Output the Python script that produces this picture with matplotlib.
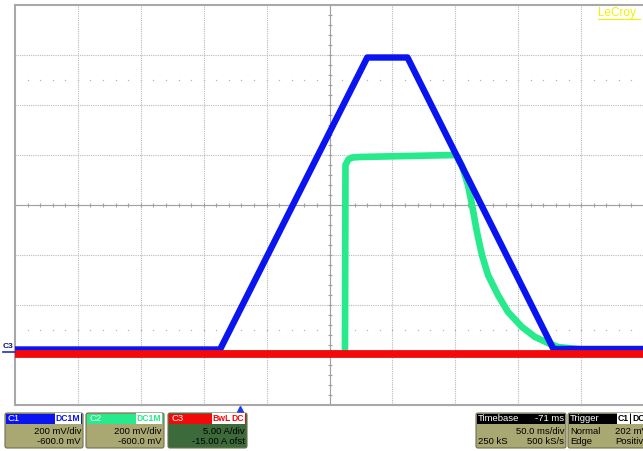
import matplotlib
matplotlib.use("Agg")
from matplotlib import pyplot as plt
from matplotlib.patches import FancyBboxPatch, Rectangle
import matplotlib.transforms as mtransforms
import numpy as np

plt.rcParams["font.family"] = ["Liberation Sans", "DejaVu Sans"]

# horizontal: time in ms, 0 = trigger
time_per_div = 50.0
trig_delay = -71.0

# C1 (blue), mV
c1_t = [-179, -16, 101, 133, 249, 321]
c1_v = [22, 22, 1190, 1190, 24, 24]
c1_scale, c1_offset = 200.0, -600.0

# C2 (green), mV
c2_t = [-179, 83.3, 83.7, 86, 89, 95, 171.6, 176.3, 181.1, 184.3, 188.2,
        192.2, 197.0, 204.9, 212.9, 224.0, 234.4, 244.7, 252.6, 275.7, 321]
c2_v = [5, 5, 760, 782, 790, 792, 800, 756, 680, 600, 492,
        400, 320, 240, 172, 112, 72, 48, 32, 20, 12]
c2_scale, c2_offset = 200.0, -600.0

# C3 (red), A
c3_t = [-179, 321]
c3_i = [0.1, 0.1]
c3_scale, c3_offset = 5.0, -15.0

W, H = 643, 451
fig = plt.figure(figsize=(W / 100, H / 100), dpi=100)
fig.patch.set_facecolor("white")

# grid area: x 15..644 px, y 5..405 px
ax = fig.add_axes([15 / W, (H - 405) / H, 629 / W, 400 / H])
center_t = -trig_delay
ax.set_xlim(center_t - 5 * time_per_div, center_t + 5 * time_per_div)
ax.set_ylim(-4, 4)
ax.set_xticks([])
ax.set_yticks([])
ax.spines["right"].set_visible(False)
for s in ("left", "top", "bottom"):
    ax.spines[s].set_color("#a8a8a8")
    ax.spines[s].set_linewidth(1.5)

x_major = ax.get_xlim()[0] + time_per_div * np.arange(1, 10)
grid_kw = dict(color="#bababa", lw=0.8, ls=(0, (1, 1)), zorder=1)
for xv in x_major:
    ax.axvline(xv, **grid_kw)
for yv in range(-3, 4):
    ax.axhline(yv, **grid_kw)

# centre cross ticks and dotted rows
x_minor = ax.get_xlim()[0] + time_per_div * 0.2 * np.arange(1, 50)
y_minor = 0.2 * np.arange(-19, 20)
ax.axhline(0, color="#a0a0a0", lw=0.8, zorder=1)
ax.axvline(center_t, color="#a0a0a0", lw=0.8, zorder=1)
ax.plot(x_minor, np.zeros_like(x_minor), ls="none", marker="|", ms=3.5,
        mew=0.8, color="#a0a0a0", zorder=1)
ax.plot(np.full_like(y_minor, center_t), y_minor, ls="none", marker="_",
        ms=3.5, mew=0.8, color="#a0a0a0", zorder=1)
for yv in (2.5, -2.5):
    ax.plot(x_minor, np.full_like(x_minor, yv), ls="none", marker="s",
            ms=0.9, mew=0, color="#b4b4b4", zorder=1)


def to_div(vals, scale, offset):
    return (np.array(vals) + offset) / scale


ax.plot(c2_t, to_div(c2_v, c2_scale, c2_offset), color="#26ea8c", lw=4.8,
        solid_joinstyle="round", zorder=3)
ax.plot(c1_t, to_div(c1_v, c1_scale, c1_offset), color="#0a14f0", lw=4.6,
        solid_joinstyle="round", zorder=4)
ax.plot(c3_t, to_div(c3_i, c3_scale, c3_offset), color="#f20a0a", lw=5.6,
        zorder=5)

# trigger marker
trans = mtransforms.blended_transform_factory(ax.transData, ax.transAxes)
ax.plot([0], [-0.011], marker="^", ms=4.5, color="#1a3cf0", transform=trans,
        clip_on=False, zorder=6)

# overlay in pixel coordinates for the readouts
ov = fig.add_axes([0, 0, 1, 1], zorder=10)
ov.set_xlim(0, W)
ov.set_ylim(H, 0)
ov.axis("off")
ov.patch.set_alpha(0)

# C3 ground marker
ov.text(3, 346, "C3", color="#101070", fontsize=6, fontweight="bold",
        va="center", ha="left")
ov.plot([3, 15], [352, 352], color="#2030c0", lw=1.2)

# LeCroy logo
ov.text(598, 13, "LeCroy", color="#f2f200", fontsize=8.5, va="center",
        ha="left")
ov.plot([598, 640], [18.5, 18.5], color="#f2f200", lw=0.8)

khaki = "#a9a772"
fs = 6.8


def box(x0, w, head_color, body_color):
    ov.add_patch(FancyBboxPatch((x0, 413), w, 35,
                                boxstyle="round,pad=0,rounding_size=2",
                                fc=body_color, ec="#707050", lw=0.8))
    ov.add_patch(Rectangle((x0 + 1, 413.5), w - 2, 10, fc=head_color,
                           ec="none"))


def tag(x_right, label, color):
    ov.text(x_right, 418.6, label, color=color, fontsize=6.2, ha="right",
            va="center", fontweight="bold",
            bbox=dict(boxstyle="square,pad=0.08", fc="white", ec="none"))


# channel boxes
box(5, 78, "#0a14f0", khaki)
ov.text(8, 418.6, "C1", color="white", fontsize=fs, va="center")
tag(80, "DC1M", "#0a14f0")
ov.text(81, 432, "200 mV/div", fontsize=fs, ha="right", va="center")
ov.text(81, 442, "-600.0 mV", fontsize=fs, ha="right", va="center")

box(86, 78, "#26ea8c", khaki)
ov.text(89, 418.6, "C2", color="white", fontsize=fs, va="center")
tag(161, "DC1M", "#26ea8c")
ov.text(162, 432, "200 mV/div", fontsize=fs, ha="right", va="center")
ov.text(162, 442, "-600.0 mV", fontsize=fs, ha="right", va="center")

box(168, 79, "#f20a0a", "#3d6a3a")
ov.text(171, 418.6, "C3", color="white", fontsize=fs, va="center")
tag(244, "DC", "#f20a0a")
tag(231, "BwL", "#f20a0a")
ov.text(245, 432, "5.00 A/div", fontsize=fs, ha="right", va="center")
ov.text(245, 442, "-15.00 A ofst", fontsize=fs, ha="right", va="center")

# timebase / trigger boxes
box(476, 90, "black", khaki)
ov.text(478, 418.6, "Timebase", color="white", fontsize=fs, va="center")
ov.text(564, 418.6, "-71 ms", color="white", fontsize=fs, va="center",
        ha="right")
ov.text(564, 432, "50.0 ms/div", fontsize=fs, ha="right", va="center")
ov.text(478, 442, "250 kS", fontsize=fs, ha="left", va="center")
ov.text(564, 442, "500 kS/s", fontsize=fs, ha="right", va="center")

box(568, 90, "black", khaki)
ov.text(570, 418.6, "Trigger", color="white", fontsize=fs, va="center")
ov.text(618, 418.6, "C1", color="black", fontsize=6.2, va="center",
        fontweight="bold",
        bbox=dict(boxstyle="square,pad=0.08", fc="white", ec="none"))
ov.text(632, 418.6, "DC", color="black", fontsize=6.2, va="center",
        fontweight="bold",
        bbox=dict(boxstyle="square,pad=0.08", fc="white", ec="none"))
ov.text(570, 432, "Normal", fontsize=fs, va="center")
ov.text(615, 432, "202 mV", fontsize=fs, va="center")
ov.text(570, 442, "Edge", fontsize=fs, va="center")
ov.text(615, 442, "Positive", fontsize=fs, va="center")

fig.savefig("out.png", dpi=100, facecolor="white")
